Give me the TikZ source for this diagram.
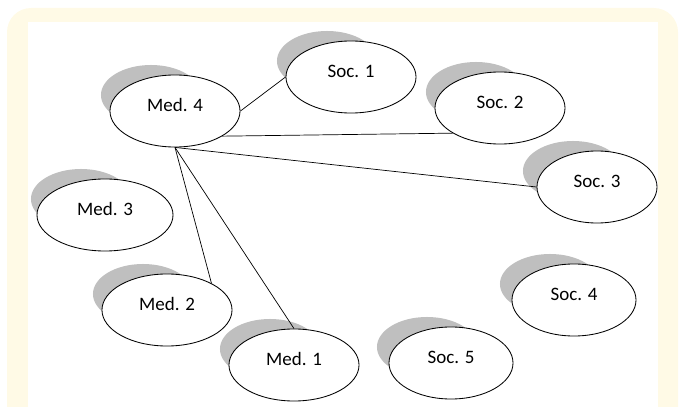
\documentclass[tikz,border=0pt]{standalone}
\usepackage{fontspec}
\setmainfont{Carlito}
\usepackage{xcolor}
\usetikzlibrary{shapes.geometric}

\definecolor{bgcream}{HTML}{FFFAE6}
\definecolor{shadowgray}{HTML}{BFBFBF}

\pgfdeclarelayer{back}
\pgfdeclarelayer{shade}
\pgfsetlayers{back,shade,main}

\tikzset{
	actor/.style={ellipse, draw, line width=0.6pt, fill=white,
		minimum width=3.25cm, minimum height=1.8cm,
		text height=0.32cm, text depth=0.3cm,
		font=\fontsize{13.5}{16}\selectfont},
	tie/.style={line width=0.5pt}
}

\begin{document}
\begin{tikzpicture}[x=0.025cm,y=-0.025cm]
	\useasboundingbox (0,0) rectangle (680,407);
	\clip (0,0) rectangle (680,407);
	
	\node[actor] (m4) at (175,111) {Med. 4};
	\node[actor, minimum width=3.4cm] (m3) at (105,215) {Med. 3};
	\node[actor] (m2) at (167,310) {Med. 2};
	\node[actor] (m1) at (294,365) {Med. 1};
	\node[actor] (s1) at (351,77) {Soc. 1};
	\node[actor] (s2) at (500,108) {Soc. 2};
	\node[actor, minimum width=3.0cm] (s3) at (597,187) {Soc. 3};
	\node[actor, minimum width=3.1cm] (s4) at (574,300) {Soc. 4};
	\node[actor, minimum width=3.1cm] (s5) at (451,363) {Soc. 5};
	
	\draw[tie] (m4.east) -- (s1.west);
	\draw[tie] (m4.-28) -- (s2.208);
	\draw[tie] (m4.south) -- (s3.west);
	\draw[tie] (m4.south) -- (m2.31);
	\draw[tie] (m4.south) -- (m1.north);
	
	\begin{pgfonlayer}{shade}
		\foreach \n in {m1,m2,m3,m4,s1,s2,s3,s4,s5}
			\fill[shadowgray] ([shift={(-24,-16)}]\n.center) ellipse (1.25cm and 0.75cm);
	\end{pgfonlayer}
	\begin{pgfonlayer}{back}
		\fill[bgcream, rounded corners=0.6cm] (7,8) rectangle (678,440);
		\fill[white] (28,22) rectangle (658,440);
	\end{pgfonlayer}
\end{tikzpicture}
\end{document}
